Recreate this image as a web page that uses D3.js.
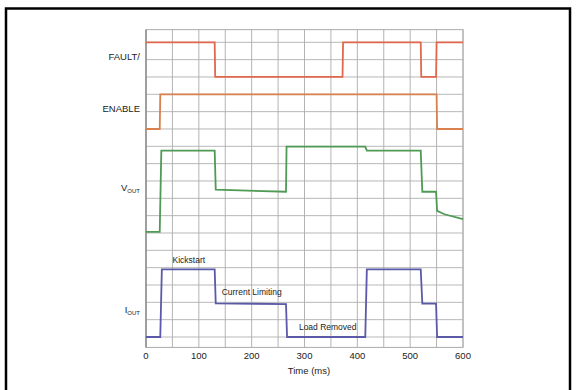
<!DOCTYPE html>
<html>
<head>
<meta charset="utf-8">
<script src="https://cdn.jsdelivr.net/npm/d3@7"></script>
<style>
body { margin: 0; background: #fff; }
text { font-family: "Liberation Sans", Arial, sans-serif; fill: #222; }
</style>
</head>
<body>
<script>
var w = 576, h = 390;

// time in ms, levels in grid divisions from the top gridline
var faultT = [0, 130, 131, 372, 373, 520, 521, 549, 550, 600];
var faultV = [0, 0, 2, 2, 0, 0, 2, 2, 0, 0];
var enableT = [0, 26, 27, 550, 551, 600];
var enableV = [5, 5, 3, 3, 5, 5];
var voutT = [0, 26, 29, 130, 132, 265, 266, 415, 418, 520, 523, 549, 551, 565, 600];
var voutV = [10.93, 10.93, 6.25, 6.25, 8.5, 8.62, 6.02, 6.02, 6.25, 6.25, 8.62, 8.62, 9.72, 9.92, 10.2];
var ioutT = [0, 27, 30, 130, 132, 265, 267, 415, 418, 520, 523, 549, 551, 600];
var ioutV = [17, 17, 13.1, 13.1, 15.06, 15.1, 17, 17, 13.1, 13.1, 15.08, 15.08, 17, 17];

var xTicks = [0, 100, 200, 300, 400, 500, 600];
var signalNames = ['FAULT/', 'ENABLE', 'V', 'I'];
var signalSubs = ['', '', 'OUT', 'OUT'];
var signalLabelY = [0.85, 3.85, 8.4, 15.45];
var notes = ['Kickstart', 'Current Limiting', 'Load Removed'];
var noteT = [81, 200, 344];
var noteY = [12.55, 14.4, 16.45];

var x = d3.scaleLinear().domain([0, 600]).range([146, 463]);
var y = d3.scaleLinear().domain([0, 17]).range([42.3, 337]);

var svg = d3.select('body').append('svg')
    .attr('width', w)
    .attr('height', h);

svg.append('rect')
    .attr('x', 6).attr('y', 8.5)
    .attr('width', 564).attr('height', 400)
    .attr('fill', 'none')
    .attr('stroke', '#000')
    .attr('stroke-width', 2.5);

var plotTop = y(-0.73), plotBottom = y(17.6);

// grid
svg.append('g').selectAll('line')
    .data(d3.range(0, 601, 50))
    .enter().append('line')
    .attr('x1', d => x(d)).attr('x2', d => x(d))
    .attr('y1', plotTop).attr('y2', plotBottom)
    .attr('stroke', '#aaa').attr('stroke-width', 0.9);

svg.append('g').selectAll('line')
    .data(d3.range(0, 18))
    .enter().append('line')
    .attr('x1', x(0)).attr('x2', x(600))
    .attr('y1', d => y(d)).attr('y2', d => y(d))
    .attr('stroke', '#b0b0b0').attr('stroke-width', 0.9);

svg.append('rect')
    .attr('x', x(0)).attr('y', plotTop)
    .attr('width', x(600) - x(0)).attr('height', plotBottom - plotTop)
    .attr('fill', 'none').attr('stroke', '#aaa').attr('stroke-width', 1);

svg.append('line')
    .attr('x1', x(0)).attr('x2', x(0))
    .attr('y1', plotTop).attr('y2', plotBottom)
    .attr('stroke', '#888').attr('stroke-width', 1.2);

// signals
var line = d3.line().x(d => x(d[0])).y(d => y(d[1]));
var series = [
    [faultT, faultV, '#e0684c'],
    [enableT, enableV, '#d9804f'],
    [voutT, voutV, '#4f9a55'],
    [ioutT, ioutV, '#5a5aa8']
];
series.forEach(function(s) {
    svg.append('path')
        .attr('d', line(d3.zip(s[0], s[1])))
        .attr('fill', 'none')
        .attr('stroke', s[2])
        .attr('stroke-width', 1.8);
});

// signal labels
var lab = svg.append('g').selectAll('text')
    .data(signalNames)
    .enter().append('text')
    .attr('x', 140)
    .attr('y', (d, i) => y(signalLabelY[i]))
    .attr('dy', '0.35em')
    .attr('text-anchor', 'end')
    .style('font-size', '9.5px');
lab.append('tspan').text(d => d);
lab.append('tspan')
    .attr('dy', '0.25em')
    .style('font-size', '6px')
    .text((d, i) => signalSubs[i]);

// annotations
svg.append('g').selectAll('text')
    .data(notes)
    .enter().append('text')
    .attr('x', (d, i) => x(noteT[i]))
    .attr('y', (d, i) => y(noteY[i]))
    .attr('dy', '0.35em')
    .attr('text-anchor', 'middle')
    .style('font-size', '8.5px')
    .text(d => d);

// axis
svg.append('g').selectAll('text')
    .data(xTicks)
    .enter().append('text')
    .attr('x', d => x(d))
    .attr('y', 356)
    .attr('dy', '0.35em')
    .attr('text-anchor', 'middle')
    .style('font-size', '9.5px')
    .text(d => d);

svg.append('text')
    .attr('x', 309).attr('y', 371)
    .attr('dy', '0.35em')
    .attr('text-anchor', 'middle')
    .style('font-size', '9.5px')
    .text('Time (ms)');
</script>
</body>
</html>
